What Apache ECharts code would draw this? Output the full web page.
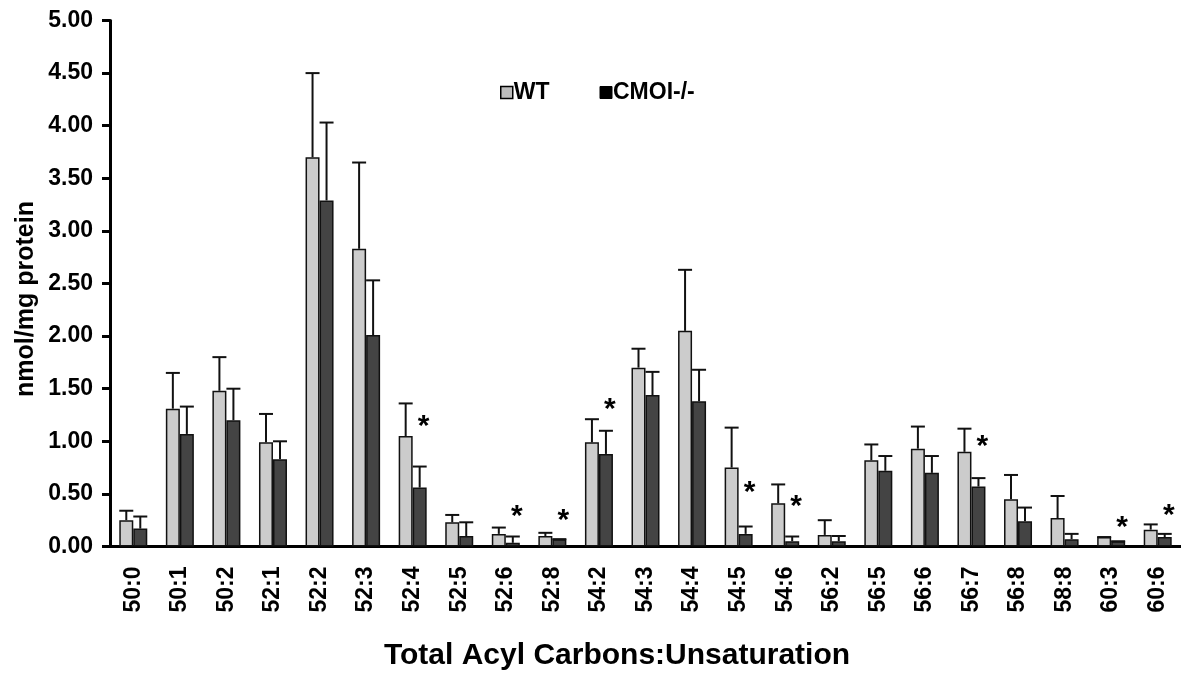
<!DOCTYPE html>
<html><head><meta charset="utf-8">
<script src="https://cdn.jsdelivr.net/npm/echarts@6/dist/echarts.min.js"></script>
<style>html,body{margin:0;padding:0;background:#fff}#c{width:1181px;height:673px}</style>
</head><body><div id="c"></div>
<script>
var categories = ['50:0','50:1','50:2','52:1','52:2','52:3','52:4','52:5','52:6','52:8','54:2','54:3','54:4','54:5','54:6','56:2','56:5','56:6','56:7','56:8','58:8','60:3','60:6'];
var wtValues =   [0.25,1.31,1.48,0.99,3.70,2.83,1.05,0.23,0.12,0.10,0.99,1.70,2.05,0.75,0.41,0.11,0.82,0.93,0.90,0.45,0.27,0.09,0.16];
var wtErrTop =   [0.34,1.65,1.80,1.26,4.50,3.65,1.36,0.30,0.18,0.13,1.21,1.88,2.63,1.13,0.59,0.25,0.97,1.14,1.12,0.68,0.48,0.09,0.21];
var koValues =   [0.17,1.07,1.20,0.83,3.29,2.01,0.56,0.10,0.035,0.07,0.88,1.44,1.38,0.12,0.05,0.05,0.72,0.70,0.57,0.24,0.07,0.05,0.09];
var koErrTop =   [0.285,1.33,1.50,1.00,4.03,2.53,0.76,0.23,0.095,0.07,1.10,1.66,1.68,0.19,0.095,0.10,0.86,0.86,0.65,0.37,0.12,0.05,0.12];
var starCats =   ['52:4','52:6','52:8','54:2','54:5','54:6','56:7','60:3','60:6'];
var starHeights = [1.18,0.32,0.28,1.34,0.55,0.415,0.99,0.22,0.335];
var yTicks = [0,0.5,1,1.5,2,2.5,3,3.5,4,4.5,5];

var BW = 14;
var FONT = '"Liberation Sans", Arial, sans-serif';
function errData(vals, tops){ return vals.map(function(v,i){ return [i, v, tops[i]]; }); }
function errRender(off){
  return function(params, api){
    var i = api.value(0);
    var p0 = api.coord([i, api.value(1)]);
    var p1 = api.coord([i, api.value(2)]);
    var x = p0[0] + off;
    var st = {stroke:'#111', lineWidth:2};
    return {type:'group', children:[
      {type:'line', shape:{x1:x,y1:p0[1],x2:x,y2:p1[1]}, style:st},
      {type:'line', shape:{x1:x-BW/2,y1:p1[1],x2:x+BW/2,y2:p1[1]}, style:st}
    ]};
  };
}
var starData = starCats.map(function(c,i){ return [categories.indexOf(c), starHeights[i]]; });

var chart = echarts.init(document.getElementById('c'), null, {renderer:'canvas'});
chart.setOption({
  animation:false,
  backgroundColor:'#fff',
  grid:{left:110, top:20.5, width:1081, height:526},
  legend:{
    left:495, top:76, itemGap:50, itemWidth:12, itemHeight:12, icon:'rect',
    textStyle:{fontFamily:FONT, fontWeight:'bold', fontSize:23, color:'#000', padding:[0,0,0,-4]},
    data:[
      {name:'WT', itemStyle:{color:'#bdbdbd', borderColor:'#000', borderWidth:1.5}},
      {name:'CMOI-/-', itemStyle:{color:'#000', borderColor:'#000', borderWidth:1}}
    ]
  },
  xAxis:{
    type:'category', data:categories,
    axisLine:{lineStyle:{color:'#000', width:3}},
    axisTick:{show:false},
    axisLabel:{rotate:90, margin:20, fontFamily:FONT, fontWeight:'bold', fontSize:23, color:'#000', interval:0}
  },
  yAxis:{
    type:'value', min:0, max:5, interval:0.5,
    axisLine:{show:true, lineStyle:{color:'#000', width:3}},
    axisTick:{show:true, inside:false, length:8, lineStyle:{color:'#000', width:3}},
    splitLine:{show:false},
    axisLabel:{margin:17, fontFamily:FONT, fontWeight:'bold', fontSize:23, color:'#000',
      formatter:function(v){ return v.toFixed(2); }}
  },
  graphic:[
    {type:'text', x:617, y:656, style:{text:'Total Acyl Carbons:Unsaturation', font:'bold 30px '+FONT, fill:'#000', textAlign:'center', textVerticalAlign:'middle'}},
    {type:'text', x:26, y:299, rotation:Math.PI/2, style:{text:'nmol/mg protein', font:'bold 25px '+FONT, fill:'#000', textAlign:'center', textVerticalAlign:'middle'}}
  ],
  series:[
    {name:'WT', type:'bar', data:wtValues, barWidth:BW, barGap:'0%',
     itemStyle:{color:'#cccccc', borderColor:'#111', borderWidth:1.5}, z:2},
    {name:'CMOI-/-', type:'bar', data:koValues, barWidth:BW, barGap:'0%',
     itemStyle:{color:'#444444', borderColor:'#111', borderWidth:1.5}, z:2},
    {name:'errWT', type:'custom', data:errData(wtValues, wtErrTop), renderItem:errRender(-BW/2), z:3, silent:true},
    {name:'errKO', type:'custom', data:errData(koValues, koErrTop), renderItem:errRender(BW/2), z:3, silent:true},
    {name:'stars', type:'custom', data:starData, z:4, silent:true,
     renderItem:function(params, api){
       var p = api.coord([api.value(0), api.value(1)]);
       return {type:'text', x:p[0]+BW/2+4, y:p[1]+4, style:{text:'*', font:'bold 30px '+FONT, fill:'#000', textAlign:'center', textVerticalAlign:'middle'}};
     }}
  ]
});
</script></body></html>
